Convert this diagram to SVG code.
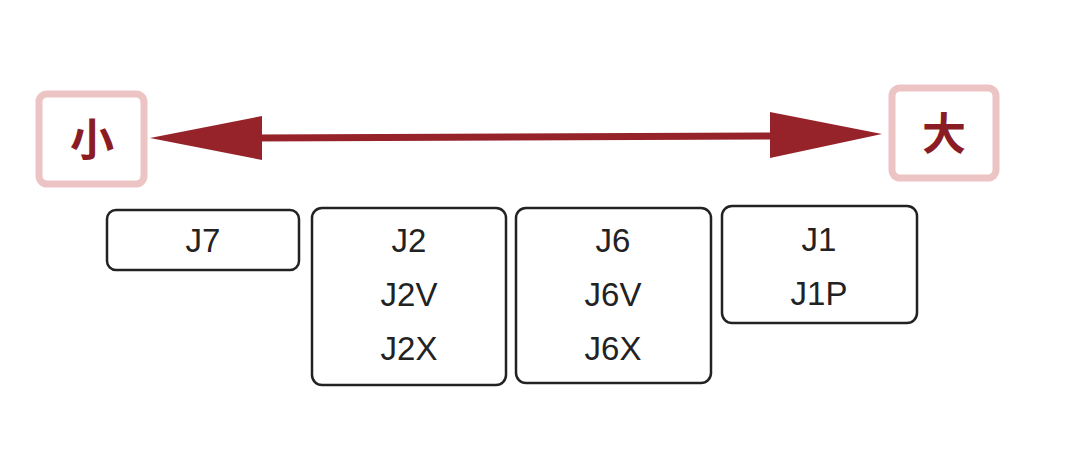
<svg xmlns="http://www.w3.org/2000/svg" width="1080" height="462" viewBox="0 0 1080 462">
<style>
.lbl{fill:#fff;stroke:#ecc4c4;stroke-width:7}
.lt{font-family:"Noto Sans CJK JP",sans-serif;font-weight:bold;font-size:44px;fill:#8a1d24;text-anchor:middle}
.box{fill:#fff;stroke:#222;stroke-width:2.5}
.bt{font-family:"Liberation Sans",Arial,sans-serif;font-size:33px;fill:#222;text-anchor:middle}
</style>
<rect width="1080" height="462" fill="#fff"/>
<g id="connectors">
<line x1="240" y1="138" x2="790" y2="136" stroke="#96232a" stroke-width="7"/>
<polygon points="150,138 262,116 262,160" fill="#96232a"/>
<polygon points="882,134 770,112 770,158" fill="#96232a"/>
</g>
<g id="small"><rect class="lbl" x="39" y="94" width="105" height="90" rx="8"/><text class="lt" x="92" y="156">小</text></g>
<g id="large"><rect class="lbl" x="892" y="88" width="104" height="90" rx="8"/><text class="lt" x="944" y="150">大</text></g>
<g id="j7"><rect class="box" x="107" y="210" width="192" height="60" rx="9"/><text class="bt" x="203" y="252">J7</text></g>
<g id="j2"><rect class="box" x="312" y="208" width="194" height="177" rx="10"/><text class="bt" x="409" y="252">J2</text><text class="bt" x="409" y="306">J2V</text><text class="bt" x="409" y="360">J2X</text></g>
<g id="j6"><rect class="box" x="516" y="208" width="195" height="175" rx="10"/><text class="bt" x="613" y="252">J6</text><text class="bt" x="613" y="306">J6V</text><text class="bt" x="613" y="360">J6X</text></g>
<g id="j1"><rect class="box" x="722" y="206" width="195" height="117" rx="10"/><text class="bt" x="819" y="251">J1</text><text class="bt" x="819" y="305">J1P</text></g>
</svg>
